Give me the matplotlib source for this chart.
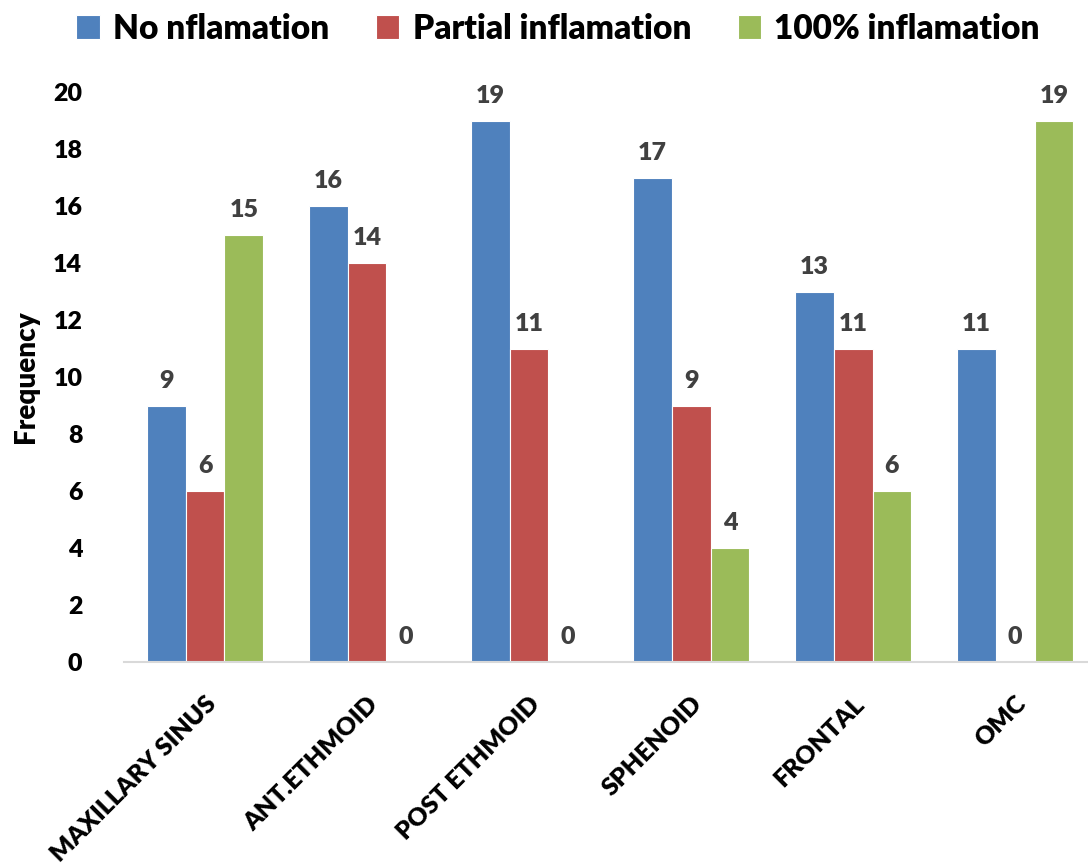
import matplotlib.pyplot as plt
import numpy as np

plt.rcParams['font.family'] = ['Lato', 'DejaVu Sans']
plt.rcParams['font.weight'] = 'heavy'

# sinus regions and counts per inflammation grade
regions = ["MAXILLARY SINUS", "ANT.ETHMOID", "POST ETHMOID", "SPHENOID", "FRONTAL", "OMC"]
no_inflam = [9, 16, 19, 17, 13, 11]
partial_inflam = [6, 14, 11, 9, 11, 0]
full_inflam = [15, 0, 0, 4, 6, 19]

series = [
    ("No nflamation", no_inflam, "#4F81BD"),
    ("Partial inflamation", partial_inflam, "#C0504D"),
    ("100% inflamation", full_inflam, "#9BBB59"),
]

fig = plt.figure(figsize=(10.88, 8.63), dpi=100)
ax = fig.add_axes([124 / 1088, 1 - 662 / 863, 964 / 1088, 570 / 863])

x = np.arange(len(regions))
w = 0.24
for i, (name, vals, col) in enumerate(series):
    pos = x + (i - 1) * w
    ax.bar(pos, vals, w, color=col, label=name, edgecolor="white", linewidth=0.8)
    for xp, v in zip(pos, vals):
        ax.annotate(str(v), (xp, v), xytext=(0, 10), textcoords="offset points",
                    ha="center", va="bottom", fontsize=18, fontweight="heavy", color="#404040")

ax.set_xlim(-0.5, 5.45)
ax.set_ylim(0, 20)
ax.set_yticks(range(0, 21, 2))
ax.set_xticks(x)
ax.set_xticklabels(regions, rotation=45, ha="right", rotation_mode="anchor",
                   fontsize=18, fontweight="heavy")
ax.tick_params(axis="y", labelsize=18, length=0, pad=30)
ax.tick_params(axis="x", length=0, pad=22)
for s in ["top", "right", "left"]:
    ax.spines[s].set_visible(False)
ax.spines["bottom"].set_color("#D9D9D9")
ax.spines["bottom"].set_linewidth(1.5)
ax.set_ylabel("Frequency", fontsize=20, fontweight="heavy", labelpad=10)

fig.legend(loc="upper center", bbox_to_anchor=(0.513, 1.02), ncol=3, frameon=False,
           handlelength=0.7, handleheight=0.7, handletextpad=0.4,
           columnspacing=1.4, prop={"weight": "heavy", "size": 24})

fig.savefig("out.png", dpi=100)
